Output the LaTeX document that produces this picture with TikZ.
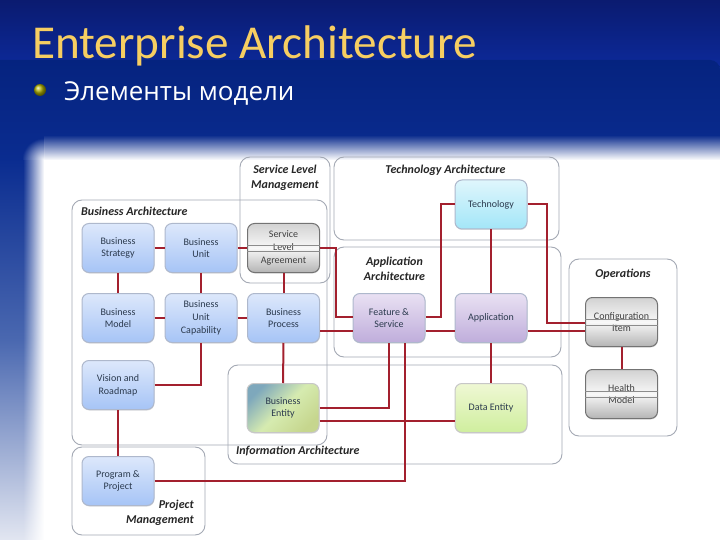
\documentclass[tikz,border=0pt]{standalone}
\usepackage{fontspec}
\setmainfont{Carlito}
\newfontfamily\ruFont{Open Sans}
\usetikzlibrary{calc, fadings, shadows, positioning}
\definecolor{connRed}{HTML}{A3202E}
\definecolor{groupGray}{HTML}{A4A9B4}
\definecolor{boxText}{HTML}{2B3A4E}
\definecolor{titleGold}{HTML}{F7CE62}
\definecolor{blueTop}{HTML}{DDE8FB}
\definecolor{blueBottom}{HTML}{A6C4F6}
\definecolor{blueEdge}{HTML}{AEB8CC}
\definecolor{cyanTop}{HTML}{DFF6FC}
\definecolor{cyanBottom}{HTML}{A3E6F8}
\definecolor{purpleTop}{HTML}{E9E1F3}
\definecolor{purpleBottom}{HTML}{BFADDB}
\definecolor{greenTop}{HTML}{EFF8D4}
\definecolor{greenBottom}{HTML}{CFEE9E}
\definecolor{entityTop}{HTML}{7EA8BC}
\definecolor{entityMid}{HTML}{D6EBB0}
\definecolor{entityBottom}{HTML}{C6D68E}
\definecolor{grayTop}{HTML}{D2D2D2}
\definecolor{grayMid}{HTML}{F8F8F8}
\definecolor{grayBottom}{HTML}{B4B4B4}
\tikzset{
    groupbox/.style={draw=groupGray, line width=0.9pt, rounded corners=10pt},
    grouplabel/.style={font=\fontsize{12}{14.5}\selectfont\bfseries\itshape, text=black!85, align=center, inner sep=0pt},
    box/.style={rounded corners=7pt, minimum width=72pt, minimum height=49pt, inner sep=1pt, align=center,
        text=boxText, font=\fontsize{10}{12.7}\selectfont, line width=1pt,
        drop shadow={shadow xshift=0.4pt, shadow yshift=-1pt, opacity=0.25}},
    bluebox/.style={box, draw=blueEdge, top color=blueTop, bottom color=blueBottom},
    cyanbox/.style={box, draw=blueEdge, top color=cyanTop, bottom color=cyanBottom},
    purplebox/.style={box, draw=blueEdge, top color=purpleTop, bottom color=purpleBottom},
    greenbox/.style={box, draw=black!22, top color=greenTop, bottom color=greenBottom},
    entitybox/.style={box, draw=black!22, top color=entityTop, bottom color=entityBottom, middle color=entityMid, shading angle=45},
    graybox/.style={box, draw=black!55, top color=grayTop, bottom color=grayBottom, middle color=grayMid, text=black!75},
    split/.style={draw=black!45, line width=0.5pt},
    conn/.style={draw=connRed, line width=2pt},
    thinconn/.style={draw=connRed, line width=1.4pt},
}
\definecolor{bgNavy}{HTML}{0B1B70}
\definecolor{bgBright}{HTML}{0C2B9E}
\definecolor{bgPanel}{HTML}{05237F}
\definecolor{bgBlue}{HTML}{0A2C90}
\definecolor{bgMid}{HTML}{4A68B0}
\definecolor{bgPale}{HTML}{E2E6F1}
\tikzfading[name=cornerFade, inner color=transparent!0, outer color=transparent!100]
\begin{document}
\begin{tikzpicture}[x=1pt, y=-1pt]
    \useasboundingbox (0,0) rectangle (720,540);
    % background
    \shade[top color=bgNavy, bottom color=bgBright] (0,0) rectangle (720,75);
    \shade[top color=bgPanel, bottom color=bgBlue, rounded corners=10pt] (0,160) [sharp corners] -- (0,60) [rounded corners=10pt] -- (720,60) [sharp corners] -- (720,160) -- cycle;
    \shade[top color=bgBlue, bottom color=bgMid] (0,159) rectangle (720,340);
    \shade[top color=bgMid, bottom color=bgPale] (0,340) rectangle (720,540);
    \fill[white] (44,160) rectangle (720,540);
    \begin{scope}
        \clip (0,0) rectangle (720,540);
        \fill[white, path fading=north] (44,135) rectangle (760,160);
    \end{scope}
    \fill[white, path fading=west] (23,160) rectangle (44,540);
    \begin{scope}
        \clip (23,135) rectangle (44,160);
        \fill[white, path fading=cornerFade] (22,138) rectangle (66,182);
    \end{scope}
    % title
    \node[anchor=base west, inner sep=0pt, text=titleGold, font=\fontsize{47.2}{50}\selectfont] (title) at (32,58.5) {Enterprise Architecture};
    \shade[ball color=yellow!70!black] (40,90) circle (6);
    \node[anchor=base west, inner sep=0pt, text=white, font=\fontsize{26}{29}\selectfont\ruFont] (subtitle) at (64,101) {Элементы модели};
    % groups
    \draw[groupbox] (72,200) rectangle (327,445);
    \draw[groupbox] (240,157) rectangle (330,283);
    \draw[groupbox] (334,157) rectangle (559,240);
    \draw[groupbox] (334,247) rectangle (561,357);
    \draw[groupbox] (569,259) rectangle (677,436);
    \draw[groupbox] (228,365) rectangle (562,464);
    \draw[groupbox] (72,447) rectangle (205,535);
    \node[grouplabel, anchor=west] (labelBusiness) at (81,211) {Business Architecture};
    \node[grouplabel] (labelService) at (285,178) {Service Level\\Management};
    \node[grouplabel] (labelTech) at (445.5,170) {Technology Architecture};
    \node[grouplabel] (labelApp) at (394.5,269) {Application\\Architecture};
    \node[grouplabel] (labelOps) at (623,274) {Operations};
    \node[grouplabel, anchor=west] (labelInfo) at (236,451) {Information Architecture};
    \node[grouplabel, anchor=east, align=right] (labelProject) at (194,513) {Project\\Management};
    % boxes
    \node[bluebox] (strategy) at (118,248) {Business\\Strategy};
    \node[bluebox] (unit) at (201,248) {Business\\Unit};
    \node[graybox] (sla) at (283.5,248) {Service\\Level\\Agreement};
    \node[bluebox] (model) at (118,318) {Business\\Model};
    \node[bluebox] (capability) at (201,318) {Business\\Unit\\Capability};
    \node[bluebox] (process) at (283.5,318) {Business\\Process};
    \node[bluebox] (vision) at (118,385) {Vision and\\Roadmap};
    \node[bluebox] (program) at (118,481) {Program \&\\Project};
    \node[entitybox] (entity) at (283,408) {Business\\Entity};
    \node[purplebox] (feature) at (389,318) {Feature \&\\Service};
    \node[purplebox] (application) at (491,318) {Application};
    \node[cyanbox] (technology) at (491,204.5) {Technology};
    \node[graybox] (config) at (621.5,322) {Configuration\\Item};
    \node[graybox] (health) at (621.5,394) {Health\\Model};
    \node[greenbox] (dataentity) at (491,408) {Data Entity};
    \foreach \n in {sla, config, health} {
        \draw[split] ([yshift=3pt]\n.west) -- ([yshift=3pt]\n.east);
        \draw[split] ([yshift=-3pt]\n.west) -- ([yshift=-3pt]\n.east);
    }
    % connectors
    \draw[conn] (strategy) -- (unit);
    \draw[conn] (unit) -- (sla);
    \draw[conn] (strategy) -- (model);
    \draw[thinconn] (unit) -- (capability);
    \draw[conn] (model) -- (capability);
    \draw[thinconn] (capability) -- (process);
    \draw[conn] (sla) -- (process);
    \draw[conn] (vision.east) -| (capability.south);
    \draw[conn] (vision) -- (program);
    \draw[conn] (process) -- (entity);
    \draw[conn] (sla.east) -- ++(15.5,0) |- ([yshift=1pt]feature.west);
    \draw[conn] ([yshift=-13pt]process.east) -- ([yshift=-13pt]feature.west);
    \draw[thinconn] ([yshift=-13pt]feature.east) -- ([yshift=-13pt]application.west);
    \draw[conn] ([yshift=-13pt]application.east) -- ([yshift=-9pt]config.west);
    \draw[conn] (technology.east) -- ++(19,0) |- ([yshift=-1pt]config.west);
    \draw[conn] (technology.west) -- ++(-14,0) |- ([yshift=1pt]feature.east);
    \draw[conn] (technology) -- (application);
    \draw[conn] (application) -- (dataentity);
    \draw[conn] (config) -- (health);
    \draw[conn] (entity.east) -| (feature.south);
    \draw[conn] ([yshift=-13pt]entity.east) -- ([yshift=-13pt]dataentity.west);
    \draw[conn] (program.east) -| ([xshift=16pt]feature.south);
\end{tikzpicture}
\end{document}
